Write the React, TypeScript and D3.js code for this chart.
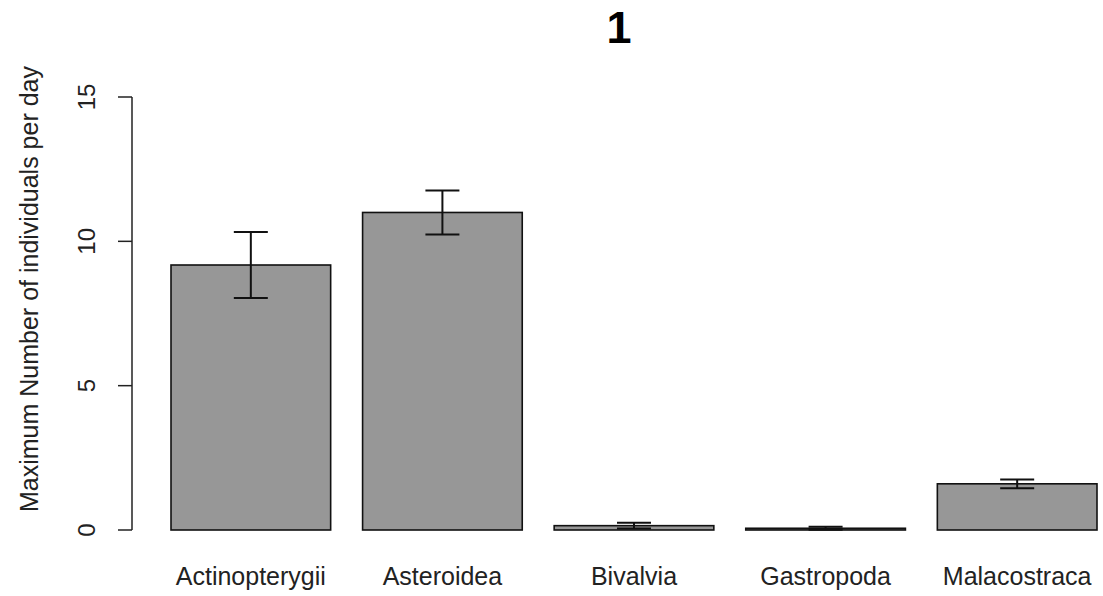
import React from 'react';
import * as d3 from 'd3';

const categories = ['Actinopterygii', 'Asteroidea', 'Bivalvia', 'Gastropoda', 'Malacostraca'];
const means = [9.18, 11.0, 0.15, 0.06, 1.6];
const errors = [1.14, 0.76, 0.1, 0.05, 0.15];
const yTicks = [0, 5, 10, 15];

const width = 1103;
const height = 596;
const font = '"Liberation Sans", Arial, Helvetica, sans-serif';

const App: React.FC = () => {
  const x = d3.scaleBand<string>()
    .domain(categories)
    .range([171, 1097])
    .paddingInner(0.2 / 1.2)
    .paddingOuter(0);
  const y = d3.scaleLinear().domain([0, 15]).range([530, 97]);
  const axisX = 132;
  const capHalf = 17;

  return (
    <div style={{ position: 'absolute', left: 0, top: 0 }}>
      <svg width={width} height={height} style={{ display: 'block', background: '#fff' }}>
        <text x={619} y={43} textAnchor="middle" fontFamily={font} fontWeight="bold" fontSize={45}>1</text>

        {categories.map((c, i) => (
          <rect
            key={c}
            x={x(c)}
            y={y(means[i])}
            width={x.bandwidth()}
            height={y(0) - y(means[i])}
            fill="#979797"
            stroke="#111"
            strokeWidth={1.6}
          />
        ))}

        {categories.map((c, i) => {
          const cx = (x(c) ?? 0) + x.bandwidth() / 2;
          const hi = y(means[i] + errors[i]);
          const lo = y(means[i] - errors[i]);
          return (
            <g key={c + '-err'} stroke="#111" strokeWidth={2}>
              <line x1={cx} x2={cx} y1={hi} y2={lo} />
              <line x1={cx - capHalf} x2={cx + capHalf} y1={hi} y2={hi} />
              <line x1={cx - capHalf} x2={cx + capHalf} y1={lo} y2={lo} />
            </g>
          );
        })}

        <line x1={axisX} x2={axisX} y1={y(15)} y2={y(0)} stroke="#222" strokeWidth={1.5} />
        {yTicks.map(t => (
          <g key={t}>
            <line x1={axisX - 14} x2={axisX} y1={y(t)} y2={y(t)} stroke="#222" strokeWidth={1.5} />
            <text
              transform={`translate(95,${y(t)}) rotate(-90)`}
              textAnchor="middle"
              fontFamily={font}
              fontSize={24}
              fill="#222"
            >
              {t}
            </text>
          </g>
        ))}

        {categories.map(c => (
          <text
            key={c + '-lab'}
            x={(x(c) ?? 0) + x.bandwidth() / 2}
            y={585}
            textAnchor="middle"
            fontFamily={font}
            fontSize={25}
            fill="#222"
          >
            {c}
          </text>
        ))}

        <text
          transform="translate(38,289) rotate(-90)"
          textAnchor="middle"
          fontFamily={font}
          fontSize={25}
          fill="#222"
        >
          Maximum Number of individuals per day
        </text>
      </svg>
    </div>
  );
};

export default App;
